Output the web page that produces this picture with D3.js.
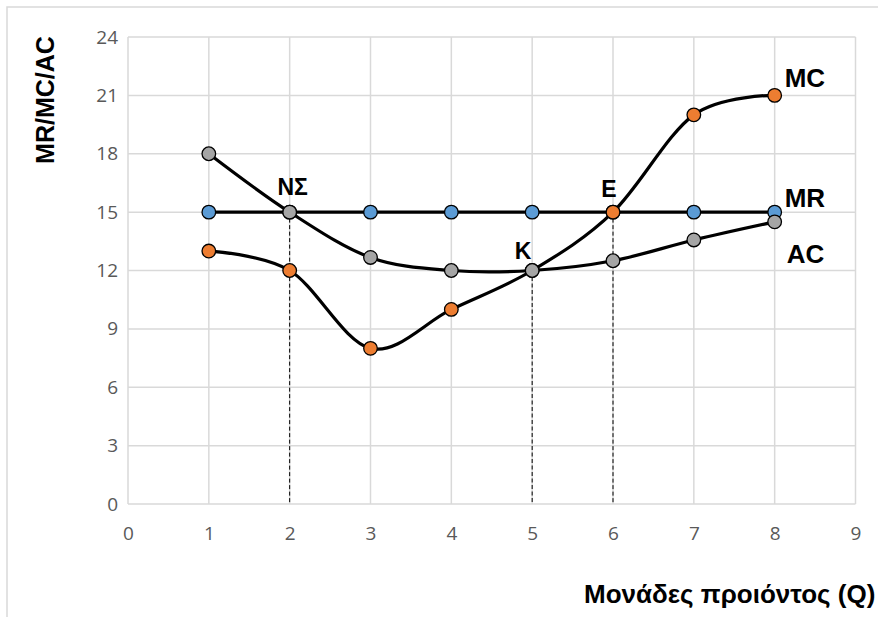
<!DOCTYPE html>
<html>
<head>
<meta charset="utf-8">
<script src="https://cdn.jsdelivr.net/npm/d3@7"></script>
<style>
  html, body { margin: 0; padding: 0; background: #fff; }
  svg { display: block; }
</style>
</head>
<body>
<svg id="chart" width="878" height="617"></svg>
<script>
// ---- data ----
const quantities = [1, 2, 3, 4, 5, 6, 7, 8];
const mrValues = [15, 15, 15, 15, 15, 15, 15, 15];
const mcValues = [13, 12, 8, 10, 12, 15, 20, 21];
const acValues = [18, 15, 12.67, 12, 12, 12.5, 13.57, 14.5];
const xTicks = [0, 1, 2, 3, 4, 5, 6, 7, 8, 9];
const yTicks = [0, 3, 6, 9, 12, 15, 18, 21, 24];
const guideQ = [2, 5, 6];
const guideValues = [15, 12, 15];
const pointLabels = ["ΝΣ", "K", "E"];
const pointLabelQ = [2, 5, 6];
const pointLabelV = [15, 12, 15];
const seriesNames = ["MC", "MR", "AC"];
const xTitle = "Μονάδες προιόντος (Q)";
const yTitle = "MR/MC/AC";

// ---- layout ----
const svg = d3.select("#chart");
const plotLeft = 128, plotRight = 855.5, plotTop = 37, plotBottom = 504;
const x = d3.scaleLinear().domain([0, 9]).range([plotLeft, plotRight]);
const y = d3.scaleLinear().domain([0, 24]).range([plotBottom, plotTop]);

// outer chart border (only top/left visible in the frame)
svg.append("rect")
  .attr("x", 7).attr("y", 7).attr("width", 1000).attr("height", 1000)
  .attr("fill", "none").attr("stroke", "#d9d9d9").attr("stroke-width", 1.5);

// gridlines
const grid = svg.append("g");
grid.selectAll("line.h").data(yTicks).join("line")
  .attr("x1", x(0)).attr("x2", x(9))
  .attr("y1", d => y(d)).attr("y2", d => y(d))
  .attr("stroke", "#d9d9d9").attr("stroke-width", 1.5);
grid.selectAll("line.v").data(xTicks).join("line")
  .attr("y1", y(0)).attr("y2", y(24))
  .attr("x1", d => x(d)).attr("x2", d => x(d))
  .attr("stroke", "#d9d9d9").attr("stroke-width", 1.5);

// axes (labels only)
const xAxis = d3.axisBottom(x).tickValues(xTicks).tickSize(0).tickPadding(23);
const yAxis = d3.axisLeft(y).tickValues(yTicks).tickSize(0).tickPadding(10);
const gx = svg.append("g").attr("transform", `translate(0,${plotBottom})`).call(xAxis);
const gy = svg.append("g").attr("transform", `translate(${plotLeft},0)`).call(yAxis);
[gx, gy].forEach(g => {
  g.select(".domain").remove();
  g.selectAll("text")
    .attr("fill", "#595959")
    .style("font-family", "'Open Sans', sans-serif")
    .style("font-size", "19px");
});

// dashed guide lines
svg.append("g").selectAll("line").data(guideQ).join("line")
  .attr("x1", d => x(d)).attr("x2", d => x(d))
  .attr("y1", (d, i) => y(guideValues[i])).attr("y2", y(0))
  .attr("stroke", "#000").attr("stroke-width", 1)
  .attr("stroke-dasharray", "4,2.5");

// series
const colors = { MR: "#5b9bd5", MC: "#ed7d31", AC: "#a5a5a5" };
const straight = d3.line().x((d, i) => x(quantities[i])).y(d => y(d));
const smooth = d3.line().x((d, i) => x(quantities[i])).y(d => y(d))
  .curve(d3.curveCardinal.tension(0));

function drawSeries(values, lineGen, color) {
  const g = svg.append("g");
  g.append("path").attr("d", lineGen(values))
    .attr("fill", "none").attr("stroke", "#000").attr("stroke-width", 3.2)
    .attr("stroke-linejoin", "round");
  g.selectAll("circle").data(values).join("circle")
    .attr("cx", (d, i) => x(quantities[i])).attr("cy", d => y(d))
    .attr("r", 6.8).attr("fill", color)
    .attr("stroke", "#000").attr("stroke-width", 1.3);
}
drawSeries(mrValues, straight, colors.MR);
drawSeries(mcValues, smooth, colors.MC);
drawSeries(acValues, smooth, colors.AC);

// point labels
const plOffsets = [[3, -17], [-9, -11.5], [-4, -15]];
svg.append("g").selectAll("text").data(pointLabels).join("text")
  .attr("x", (d, i) => x(pointLabelQ[i]) + plOffsets[i][0])
  .attr("y", (d, i) => y(pointLabelV[i]) + plOffsets[i][1])
  .attr("text-anchor", "middle")
  .style("font-family", "'Liberation Sans', Arial, sans-serif")
  .style("font-weight", "bold").style("font-size", "23px")
  .attr("fill", "#000")
  .text(d => d);

// series name labels near last point
const lastVals = [mcValues[7], mrValues[7], acValues[7]];
const snOffsets = [[10, -8], [10, -5], [12, 41]];
svg.append("g").selectAll("text").data(seriesNames).join("text")
  .attr("x", (d, i) => x(quantities[7]) + snOffsets[i][0])
  .attr("y", (d, i) => y(lastVals[i]) + snOffsets[i][1])
  .style("font-family", "'Liberation Sans', Arial, sans-serif")
  .style("font-weight", "bold").style("font-size", "26px")
  .attr("fill", "#000")
  .text(d => d);

// axis titles
svg.append("text")
  .attr("x", 584).attr("y", 603)
  .style("font-family", "'Liberation Sans', Arial, sans-serif")
  .style("font-weight", "bold").style("font-size", "26px")
  .attr("fill", "#000")
  .text(xTitle);

svg.append("text")
  .attr("transform", "translate(54,100) rotate(-90)")
  .attr("text-anchor", "middle")
  .style("font-family", "'Liberation Sans', Arial, sans-serif")
  .style("font-weight", "bold").style("font-size", "25px")
  .attr("fill", "#000")
  .text(yTitle);
</script>
</body>
</html>
